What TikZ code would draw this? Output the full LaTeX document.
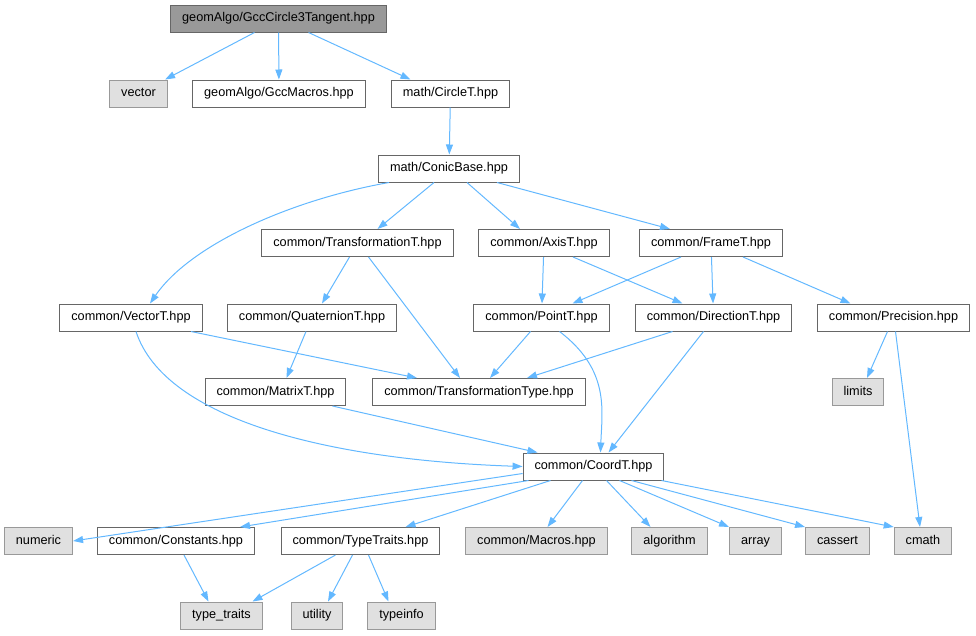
\documentclass[tikz,border=0pt]{standalone}
\usepackage{fontspec}
\setmainfont{Liberation Sans}
\usetikzlibrary{arrows.meta}

\definecolor{edgeblue}{HTML}{63B8FF}
\definecolor{topgray}{HTML}{999999}
\definecolor{sysgray}{HTML}{E0E0E0}
\definecolor{rimgray}{HTML}{666666}

\begin{document}
\begin{tikzpicture}[x=1pt,y=-1pt,
    box/.style={draw=rimgray,line width=1pt,minimum height=27pt,inner xsep=11.5pt,inner ysep=0pt,
      text height=9.2pt,text depth=2.6pt,font=\fontsize{12.7}{14}\selectfont},
    file/.style={box,fill=white},
    main/.style={box,fill=topgray},
    sys/.style={box,draw=topgray,fill=sysgray},
    dep/.style={draw=edgeblue,line width=1pt,-{Triangle[length=10pt,width=7pt]}}]
      \useasboundingbox (0,0) rectangle (976,635);
      % header and its direct includes
      \node[main] (top) at (278.5,18.5) {geomAlgo/GccCircle3Tangent.hpp};
      \node[sys] (vector) at (138.5,93.5) {vector};
      \node[file] (macros) at (279,93.5) {geomAlgo/GccMacros.hpp};
      \node[file] (circle) at (450.5,93.5) {math/CircleT.hpp};
      \node[file] (conic) at (449,168.5) {math/ConicBase.hpp};
      \node[file] (trans) at (357.5,243) {common/TransformationT.hpp};
      \node[file] (axis) at (544,243) {common/AxisT.hpp};
      \node[file] (frame) at (711,243) {common/FrameT.hpp};
      \node[file] (vec) at (131,317.5) {common/VectorT.hpp};
      \node[file] (quat) at (312,317.5) {common/QuaternionT.hpp};
      \node[file] (point) at (541.5,317.5) {common/PointT.hpp};
      \node[file] (dir) at (713.5,317.5) {common/DirectionT.hpp};
      \node[file] (prec) at (893.5,317.5) {common/Precision.hpp};
      \node[file] (matrix) at (275.5,392) {common/MatrixT.hpp};
      \node[file] (ttype) at (479,392) {common/TransformationType.hpp};
      \node[sys] (limits) at (858,392) {limits};
      \node[file] (coord) at (593.5,466.5) {common/CoordT.hpp};
      % bottom rows
      \node[sys] (numeric) at (38.5,541) {numeric};
      \node[file] (consts) at (176,541) {common/Constants.hpp};
      \node[file] (traits) at (360.5,541) {common/TypeTraits.hpp};
      \node[sys] (cmacros) at (536.5,541) {common/Macros.hpp};
      \node[sys] (algo) at (669.5,541) {algorithm};
      \node[sys] (array) at (755.5,541) {array};
      \node[sys] (cassert) at (837.5,541) {cassert};
      \node[sys] (cmath) at (923,541) {cmath};
      \node[sys] (typetr) at (221.5,615.5) {type\_traits};
      \node[sys] (utility) at (317,615.5) {utility};
      \node[sys] (typeinfo) at (401.5,615.5) {typeinfo};

      \draw[dep] ([xshift=-24pt]top.south) -- (vector);
      \draw[dep] (top) -- (macros);
      \draw[dep] ([xshift=30pt]top.south) -- ([xshift=-40pt]circle.north);
      \draw[dep] (circle) -- (conic);
      \draw[dep] ([xshift=-60pt]conic.south) .. controls (290,200) and (190,245) .. ([xshift=19pt]vec.north);
      \draw[dep] ([xshift=-15pt]conic.south) -- ([xshift=20pt]trans.north);
      \draw[dep] ([xshift=18pt]conic.south) -- ([xshift=-24pt]axis.north);
      \draw[dep] ([xshift=48pt]conic.south) -- ([xshift=-41pt]frame.north);
      \draw[dep] ([xshift=-8pt]trans.south) -- ([xshift=10pt]quat.north);
      \draw[dep] ([xshift=11pt]trans.south) -- ([xshift=-19pt]ttype.north);
      \draw[dep] (axis) -- (point);
      \draw[dep] ([xshift=29pt]axis.south) -- ([xshift=-31pt]dir.north);
      \draw[dep] ([xshift=-30pt]frame.south) -- ([xshift=31pt]point.north);
      \draw[dep] (frame) -- (dir);
      \draw[dep] ([xshift=32pt]frame.south) -- ([xshift=-43pt]prec.north);
      \draw[dep] ([xshift=60pt]vec.south) -- ([xshift=-62pt]ttype.north);
      \draw[dep] ([xshift=5pt]vec.south) .. controls (165,420) and (330,460) .. (coord.west);
      \draw[dep] ([xshift=-6pt]quat.south) -- ([xshift=11pt]matrix.north);
      \draw[dep] ([xshift=57pt]matrix.south) -- ([xshift=-56pt]coord.north);
      \draw[dep] ([xshift=-11pt]point.south) -- ([xshift=11pt]ttype.north);
      \draw[dep] ([xshift=18pt]point.south) .. controls (610,370) and (602,410) .. ([xshift=7pt]coord.north);
      \draw[dep] ([xshift=-41pt]dir.south) -- ([xshift=48pt]ttype.north);
      \draw[dep] ([xshift=-10pt]dir.south) -- ([xshift=15pt]coord.north);
      \draw[dep] ([xshift=-6pt]prec.south) -- ([xshift=9pt]limits.north);
      \draw[dep] ([xshift=2pt]prec.south) -- ([xshift=-3pt]cmath.north);
      \draw[dep] ([yshift=-7pt]coord.west) -- (numeric.east);
      \draw[dep] ([xshift=-65pt]coord.south) -- ([xshift=64pt]consts.north);
      \draw[dep] ([xshift=-43pt]coord.south) -- ([xshift=45pt]traits.north);
      \draw[dep] ([xshift=-11pt]coord.south) -- ([xshift=11pt]cmacros.north);
      \draw[dep] ([xshift=13pt]coord.south) -- ([xshift=-19pt]algo.north);
      \draw[dep] ([xshift=26pt]coord.south) -- (array.north west);
      \draw[dep] ([xshift=38pt]coord.south) -- (cassert.north west);
      \draw[dep] ([xshift=68pt]coord.south) -- (cmath.north west);
      \draw[dep] ([xshift=8pt]consts.south) -- ([xshift=-13pt]typetr.north);
      \draw[dep] ([xshift=-25pt]traits.south) -- ([xshift=31pt]typetr.north);
      \draw[dep] ([xshift=-8pt]traits.south) -- ([xshift=11pt]utility.north);
      \draw[dep] ([xshift=8pt]traits.south) -- ([xshift=-13pt]typeinfo.north);
    \end{tikzpicture}
\end{document}
